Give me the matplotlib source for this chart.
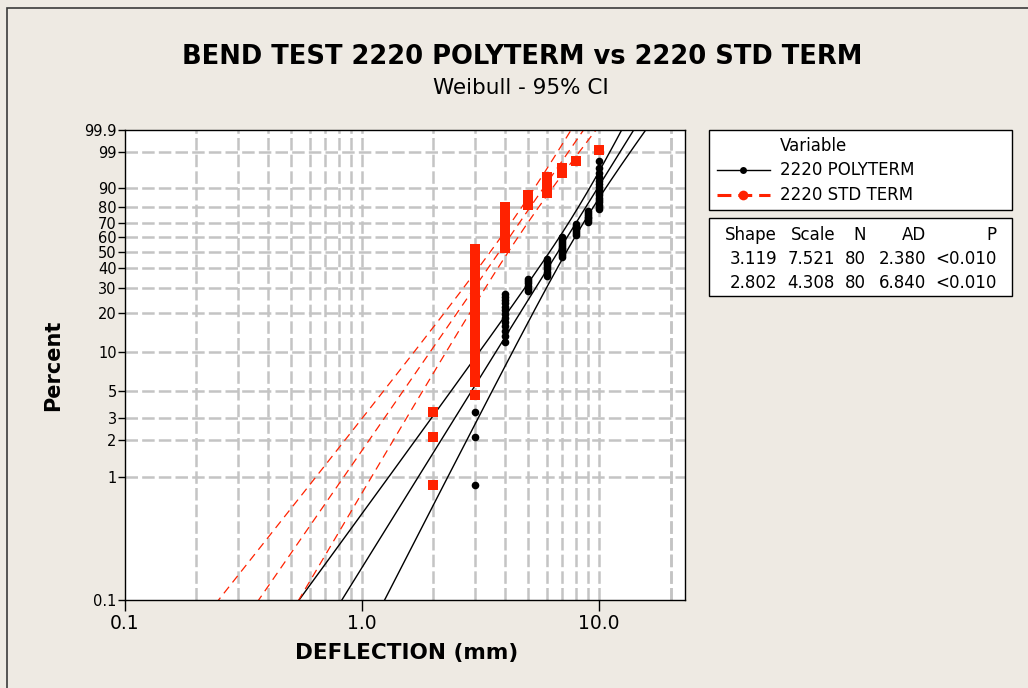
import numpy as np
import matplotlib
matplotlib.use("Agg")
import matplotlib.pyplot as plt
from matplotlib.patches import Rectangle
from matplotlib.lines import Line2D

# ---------------- data ----------------
title = "BEND TEST 2220 POLYTERM vs 2220 STD TERM"
subtitle = "Weibull - 95% CI"
xlabel = "DEFLECTION (mm)"
ylabel = "Percent"
series_names = ["2220 POLYTERM", "2220 STD TERM"]

# observed deflections (mm) and how many of the 80 specimens had each value
poly_values = [3, 4, 5, 6, 7, 8, 9, 10]
poly_counts = [9, 13, 6, 9, 12, 7, 7, 17]
std_values = [2, 3, 4, 5, 6, 7, 8, 10]
std_counts = [3, 39, 23, 5, 6, 2, 1, 1]

shape = [3.119, 2.802]
scale = [7.521, 4.308]
n_obs = [80, 80]
ad_stat = ["2.380", "6.840"]
p_value = ["<0.010", "<0.010"]

# asymptotic variance factors for (ln scale, 1/shape) used for the 95% bands
ci_var = [(1.1087, 0.6496, -0.202), (1.1087, 0.4623, -0.1143)]

y_ticks = [0.1, 1, 2, 3, 5, 10, 20, 30, 40, 50, 60, 70, 80, 90, 99, 99.9]
y_labels = ["0.1", "1", "2", "3", "5", "10", "20", "30", "40", "50", "60",
            "70", "80", "90", "99", "99.9"]
x_ticks = [0.1, 1.0, 10.0]
x_labels = ["0.1", "1.0", "10.0"]

# ---------------- style ----------------
W, H = 1028, 688
BG = "#EEEAE3"
RED = "#FF2200"
GRID = "#C4C4C4"
plt.rcParams["font.family"] = ["DejaVu Sans"]
plt.rcParams["lines.scale_dashes"] = False

fig = plt.figure(figsize=(W / 100, H / 100), dpi=100)
fig.patch.set_facecolor(BG)


def fx(px):
    return px / W


def fy(py):
    return 1 - py / H


# outer frame (left/top visible)
fig.add_artist(Rectangle((fx(7), fy(H + 20)), fx(W + 20), (H + 20 - 8) / H,
                         transform=fig.transFigure, fill=False,
                         edgecolor="#3a3a3a", linewidth=1.2))

ax = fig.add_axes([fx(125), fy(600), fx(685 - 125), (600 - 130) / H])
ax.set_facecolor("white")


def fwd(p):
    p = np.clip(np.asarray(p, dtype=float), 1e-9, 100 - 1e-9)
    return np.log(-np.log(1 - p / 100.0))


def inv(w):
    return 100.0 * (1 - np.exp(-np.exp(w)))


ax.set_xscale("log")
ax.set_yscale("function", functions=(fwd, inv))
ax.set_xlim(0.1, 23)
ax.set_ylim(0.1, 99.9)

# grid
x_grid = [m * 10.0 ** e for e in (-1, 0, 1) for m in range(1, 10)] + [20]
x_grid = [g for g in x_grid if 0.1 < g < 23]
for g in x_grid:
    ax.axvline(g, color=GRID, lw=1.8, dashes=(9, 3), zorder=0.5)
for g in y_ticks[1:-1]:
    ax.axhline(g, color=GRID, lw=1.8, dashes=(9, 3), zorder=0.5)

# fitted lines and confidence bands
wgrid = np.linspace(np.log(-np.log(1 - 0.0005)), np.log(-np.log(1 - 0.9995)), 400)
pgrid = inv(wgrid)
for k in range(2):
    A, B, C = ci_var[k]
    b = 1.0 / shape[k]
    lnx = np.log(scale[k]) + wgrid * b
    se = b / np.sqrt(n_obs[k]) * np.sqrt(A + B * wgrid ** 2 + 2 * C * wgrid)
    for curve in (lnx - 1.96 * se, lnx, lnx + 1.96 * se):
        if k == 0:
            ax.plot(np.exp(curve), pgrid, color="black", lw=1.0, zorder=2)
        else:
            ax.plot(np.exp(curve), pgrid, color=RED, lw=0.9,
                    dashes=(6, 4), zorder=2)


# points: median-rank plotting positions
def positions(values, counts):
    n = sum(counts)
    xs, ps = [], []
    i = 0
    for v, c in zip(values, counts):
        for _ in range(c):
            i += 1
            xs.append(v)
            ps.append(100.0 * (i - 0.3) / (n + 0.4))
    return xs, ps


px0, pp0 = positions(poly_values, poly_counts)
px1, pp1 = positions(std_values, std_counts)
ax.plot(px0, pp0, "o", color="black", ms=5.5, mew=0, zorder=3)
ax.plot(px1, pp1, "s", color=RED, ms=6.5, mew=0, zorder=4)

# ticks
ax.set_xticks(x_ticks)
ax.set_xticklabels(x_labels)
ax.xaxis.set_minor_locator(matplotlib.ticker.NullLocator())
ax.set_yticks(y_ticks)
ax.set_yticklabels(y_labels)
ax.yaxis.set_minor_locator(matplotlib.ticker.NullLocator())
ax.tick_params(axis="x", length=8, width=1, labelsize=13.5, pad=2,
               colors="black")
ax.tick_params(axis="y", length=5, width=1, labelsize=10.5, pad=1,
               colors="black")
for s in ax.spines.values():
    s.set_linewidth(1.0)
    s.set_color("black")

# titles / axis labels
fig.text(fx(522), fy(57), title, ha="center", va="center",
         fontsize=18.5, fontweight="bold")
fig.text(fx(521), fy(88), subtitle, ha="center", va="center", fontsize=15.5)
fig.text(fx(407), fy(653), xlabel, ha="center", va="center",
         fontsize=15.5, fontweight="bold")
fig.text(fx(53), fy(365), ylabel, ha="center", va="center",
         fontsize=15, fontweight="bold", rotation=90)

# legend box
LFS = 12
fig.add_artist(Rectangle((fx(709), fy(210)), fx(1012 - 709), (210 - 130) / H,
                         transform=fig.transFigure, facecolor="white",
                         edgecolor="black", linewidth=1.0))
fig.text(fx(780), fy(146), "Variable", ha="left", va="center", fontsize=LFS)
fig.add_artist(Line2D([fx(717), fx(770)], [fy(170), fy(170)],
                      transform=fig.transFigure, color="black", lw=1.0))
fig.add_artist(Line2D([fx(743)], [fy(170)], transform=fig.transFigure,
                      color="black", marker="o", ms=5, mew=0))
fig.add_artist(Line2D([fx(717), fx(770)], [fy(195), fy(195)],
                      transform=fig.transFigure, color=RED, lw=2.2,
                      dashes=(10, 5)))
fig.add_artist(Line2D([fx(743)], [fy(195)], transform=fig.transFigure,
                      color=RED, marker="o", ms=7, mew=0))
fig.text(fx(780), fy(170), series_names[0], ha="left", va="center",
         fontsize=LFS)
fig.text(fx(780), fy(195), series_names[1], ha="left", va="center",
         fontsize=LFS)

# statistics table
fig.add_artist(Rectangle((fx(709), fy(296)), fx(1012 - 709), (296 - 218) / H,
                         transform=fig.transFigure, facecolor="white",
                         edgecolor="black", linewidth=1.0))
col_right = [777, 835, 866, 926, 997]
header = ["Shape", "Scale", "N", "AD", "P"]
rows = [[f"{shape[k]:.3f}", f"{scale[k]:.3f}", str(n_obs[k]), ad_stat[k],
         p_value[k]] for k in range(2)]
for j, h in enumerate(header):
    fig.text(fx(col_right[j]), fy(235), h, ha="right", va="center",
             fontsize=LFS)
for r, row in enumerate(rows):
    for j, v in enumerate(row):
        fig.text(fx(col_right[j]), fy(259 + 24 * r), v, ha="right",
                 va="center", fontsize=LFS)

fig.savefig("out.png", dpi=100, facecolor=BG)
